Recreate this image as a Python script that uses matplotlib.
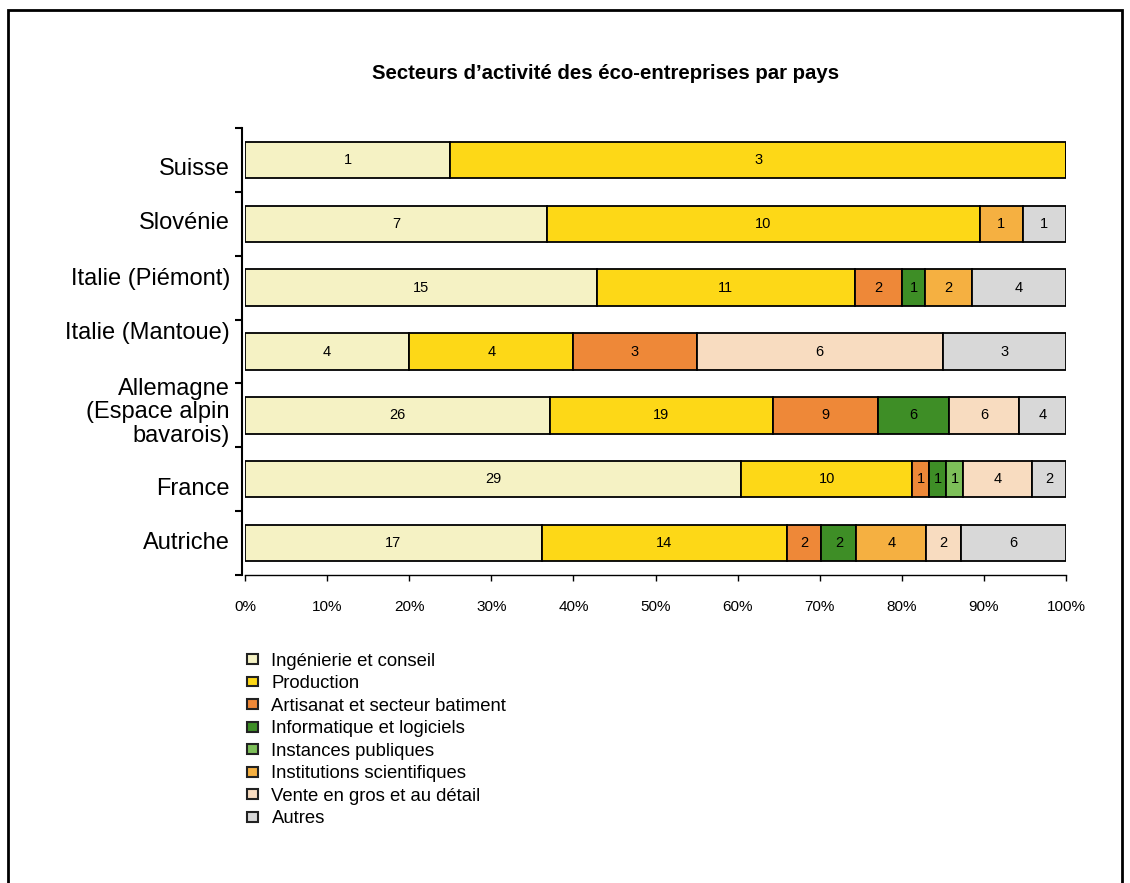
import matplotlib.pyplot as plt
from matplotlib.patches import Patch, Rectangle
import matplotlib.transforms as mtransforms
import numpy as np

plt.rcParams['font.family'] = ['Liberation Sans', 'DejaVu Sans']

# Data (counts of companies per sector)
pays = ["Autriche", "France", "Allemagne\n(Espace alpin\nbavarois)",
        "Italie (Mantoue)", "Italie (Piémont)", "Slovénie", "Suisse"]
secteurs = ["Ingénierie et conseil", "Production", "Artisanat et secteur batiment",
            "Informatique et logiciels", "Instances publiques",
            "Institutions scientifiques", "Vente en gros et au détail", "Autres"]
ingenierie = [17, 29, 26, 4, 15, 7, 1]
production = [14, 10, 19, 4, 11, 10, 3]
artisanat = [2, 1, 9, 3, 2, 0, 0]
informatique = [2, 1, 6, 0, 1, 0, 0]
instances = [0, 1, 0, 0, 0, 0, 0]
institutions = [4, 0, 0, 0, 2, 1, 0]
vente = [2, 4, 6, 6, 0, 0, 0]
autres = [6, 2, 4, 3, 4, 1, 0]
couleurs = ["#F5F2C4", "#FDD817", "#EE8838", "#3E8E26", "#7DBF59",
            "#F5B041", "#F8DCC0", "#D8D8D8"]

series = np.array([ingenierie, production, artisanat, informatique,
                   instances, institutions, vente, autres], dtype=float)
totaux = series.sum(axis=0)
parts = series / totaux * 100

fig = plt.figure(figsize=(11.3, 8.83), dpi=100)
ax = fig.add_axes([0.2168, 0.3488, 0.7266, 0.5062])

y = np.arange(len(pays))
gauche = np.zeros(len(pays))
for i, nom in enumerate(secteurs):
    bars = ax.barh(y, parts[i], left=gauche, height=0.57, color=couleurs[i],
                   edgecolor="black", linewidth=1.3, label=nom)
    for j, b in enumerate(bars):
        if series[i, j] > 0:
            ax.text(gauche[j] + parts[i, j] / 2, y[j], f"{int(series[i, j])}",
                    ha="center", va="center", fontsize=10.5, color="black")
    gauche += parts[i]

ax.set_xlim(0, 100)
ax.set_ylim(-0.5, len(pays) - 0.5)
ax.set_xticks(range(0, 101, 10))
ax.set_xticklabels([f"{v}%" for v in range(0, 101, 10)])
ax.tick_params(axis="x", length=4, width=1, pad=14, labelsize=11)
ax.set_yticks([])
ax.set_yticks(np.arange(-0.5, len(pays), 1), minor=True)
ax.tick_params(axis="y", which="minor", length=5, width=1.5, direction="out")

# country labels, nudged like the original (pixels, + = down)
decalages = [0, 10, -3, -19, -9, -1, 9]
trans = mtransforms.blended_transform_factory(ax.transAxes, ax.transData)
for j, nom in enumerate(pays):
    t = trans + mtransforms.ScaledTranslation(-15 / 100, -decalages[j] / 100,
                                              fig.dpi_scale_trans)
    ax.text(0, y[j], nom, transform=t, ha="right", va="center",
            fontsize=17, linespacing=1.1, multialignment="right")

for s in ["top", "right"]:
    ax.spines[s].set_visible(False)
ax.spines["left"].set_linewidth(1.5)
ax.spines["bottom"].set_linewidth(1)
ax.spines["left"].set_position(("data", -0.4))

fig.text(0.536, 0.917, "Secteurs d\u2019activité des éco-entreprises par pays",
         ha="center", va="center", fontsize=14.7, fontweight="bold")

handles = [Patch(facecolor=c, edgecolor="#222222", linewidth=1.5) for c in couleurs]
fig.legend(handles, secteurs, loc="upper left", bbox_to_anchor=(0.219, 0.261),
           frameon=False, fontsize=13.3, handlelength=0.55, handleheight=0.45,
           handletextpad=0.75, labelspacing=0.3, borderaxespad=0,
           borderpad=0)

# outer frame
fig.patches.append(Rectangle((8 / 1130, -0.05), 1114 / 1130, 1.05 - 10 / 883,
                             transform=fig.transFigure, fill=False,
                             edgecolor="black", linewidth=2))

fig.savefig("out.png", dpi=100, facecolor="white")
